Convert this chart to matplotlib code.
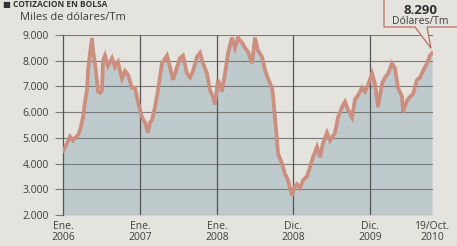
import matplotlib.pyplot as plt
from matplotlib.patches import Polygon

# posicion horizontal (en unidades de "tramo" entre marcas) y precio en dolares/Tm
pos = [0, 3, 7, 10, 12, 15, 17, 20, 22, 24, 25, 27, 29, 30, 32, 34, 35, 37, 39, 40,
       42, 45, 49, 52, 55, 59, 62, 65, 69, 72, 75, 79, 82, 85, 87, 89, 92, 95, 99,
       104, 107, 110, 114, 117, 120, 124, 127, 130, 134, 137, 140, 144, 147, 150,
       152, 155, 159, 162, 165, 169, 172, 175, 179, 182, 185, 189, 192, 195, 199,
       202, 205, 209, 210, 212, 214, 215, 219, 222, 225, 229, 231, 234, 237, 240,
       244, 247, 250, 254, 257, 260, 264, 267, 272, 275, 279, 282, 285, 289, 292,
       295, 299, 302, 305, 309, 312, 315, 319, 322, 325, 329, 332, 335, 339, 340,
       344, 347, 350, 354, 357, 360, 364, 367, 369]
precio = [4500, 4700, 5050, 4900, 5000, 5100, 5300, 5800, 6400, 6860, 7600, 8300,
          8880, 8400, 7900, 7200, 6800, 6750, 6850, 8000, 8200, 7800, 8100, 7750,
          7950, 7300, 7600, 7450, 6950, 6950, 6400, 5800, 5600, 5200, 5600, 5700,
          6200, 6850, 7900, 8200, 7750, 7250, 7750, 8100, 8200, 7500, 7350, 7600,
          8150, 8300, 7900, 7500, 6850, 6600, 6300, 7250, 6800, 7500, 8300, 8900,
          8500, 8900, 8700, 8500, 8350, 7900, 8900, 8400, 8150, 7650, 7300, 6950,
          6650, 5800, 4900, 4400, 4000, 3600, 3350, 2750, 3050, 3200, 3050, 3350,
          3500, 3850, 4250, 4650, 4250, 4800, 5200, 4900, 5200, 5800, 6200, 6400,
          6100, 5800, 6500, 6650, 6950, 6800, 7050, 7500, 7100, 6200, 7100, 7350,
          7500, 7900, 7700, 6950, 6600, 6000, 6450, 6600, 6700, 7250, 7350, 7600,
          7900, 8200, 8290]

ticks_pos = [0, 77, 154, 230, 307, 369]
ticks_lab = ['Ene.\n2006', 'Ene.\n2007', 'Ene.\n2008', 'Dic.\n2008', 'Dic.\n2009', '19/Oct.\n2010']
y_ticks = [2000, 3000, 4000, 5000, 6000, 7000, 8000, 9000]

fondo = '#e4e3de'
relleno = '#bfcacc'
linea = '#cc8e7e'
texto = '#3f3f3f'

plt.rcParams['font.family'] = ['Open Sans', 'DejaVu Sans']

W, H = 457, 246
fig = plt.figure(figsize=(W / 100, H / 100), dpi=100, facecolor=fondo)
ax = fig.add_axes([63 / W, 1 - 215 / H, (433 - 63) / W, (215 - 35) / H])
ax.set_facecolor(fondo)

ax.fill_between(pos, precio, 2000, color=relleno, lw=0, zorder=1)
ax.plot(pos, precio, color=linea, lw=2.7, solid_joinstyle='miter', zorder=3)

ax.set_xlim(0, 370)
ax.set_ylim(2000, 9000)
ax.set_yticks(y_ticks)
ax.set_yticklabels([f'{v:,}'.replace(',', '.') for v in y_ticks])
ax.set_xticks(ticks_pos)
ax.set_xticklabels(ticks_lab, linespacing=1.0)

for s in ['top', 'right', 'bottom']:
    ax.spines[s].set_visible(False)
ax.spines['left'].set_color('#555555')
ax.spines['left'].set_linewidth(0.9)

ax.grid(axis='y', color='#7a7a7a', lw=0.8, zorder=2)
for p in ticks_pos[1:-1]:
    ax.axvline(p, color='#555555', lw=0.9, zorder=2)

ax.tick_params(axis='y', length=6, width=0.8, color='#7a7a7a', labelsize=7.5,
               labelcolor=texto, pad=4)
ax.tick_params(axis='x', length=0, labelsize=7.5, labelcolor=texto, pad=4)

fig.text(20 / W, 1 - 17 / H, 'Miles de dólares/Tm', fontsize=8, color=texto,
         ha='left', va='center')
fig.text(3 / W, 1 - 4 / H, '■ COTIZACIÓN EN BOLSA', fontsize=6, fontweight='bold',
         color='#333333', ha='left', va='center')

# globo con el ultimo valor
fig.canvas.draw()
tx, ty = ax.transData.transform((pos[-1], precio[-1]))
bx0, by0 = 384, H - 27
globo = Polygon([(bx0, H + 5), (bx0, by0), (415, by0), (tx - 1, ty + 5),
                 (427, by0), (W + 5, by0), (W + 5, H + 5)],
                closed=True, transform=None, facecolor=fondo,
                edgecolor='#b8705e', lw=0.9, zorder=5)
fig.patches.append(globo)
fig.text(420 / W, 1 - 10 / H, '8.290', fontsize=9.5, fontweight='bold',
         color='#2f2f2f', ha='center', va='center', zorder=6)
fig.text(420 / W, 1 - 22 / H, 'Dólares/Tm', fontsize=7.5, color=texto,
         ha='center', va='center', zorder=6)

fig.savefig('out.png', dpi=100, facecolor=fondo)
